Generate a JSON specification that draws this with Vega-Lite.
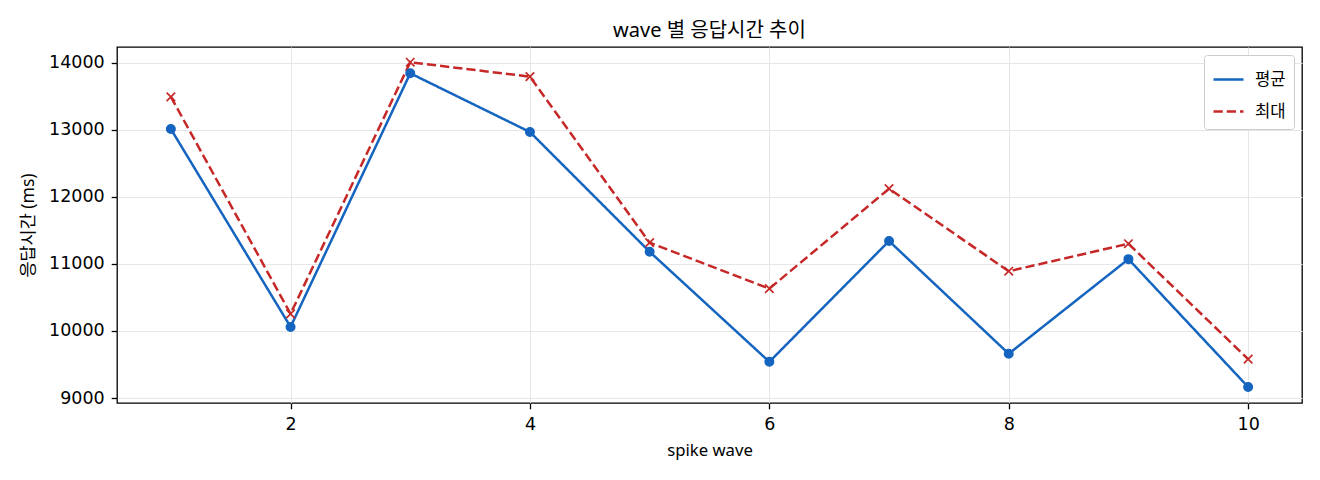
{
  "$schema": "https://vega.github.io/schema/vega-lite/v6.json",
  "autosize": {"type": "none"},
  "padding": {"left": 117, "top": 47, "right": 18, "bottom": 77},
  "width": 1185,
  "height": 356,
  "background": "white",
  "title": {
    "text": "wave 별 응답시간 추이",
    "font": "Noto Sans, Noto Sans CJK KR",
    "fontSize": 20,
    "fontWeight": "normal",
    "color": "#000000",
    "anchor": "middle",
    "offset": 6
  },
  "data": {
    "values": [
      {"wave": 1, "series": "평균", "value": 13010},
      {"wave": 2, "series": "평균", "value": 10060},
      {"wave": 3, "series": "평균", "value": 13840},
      {"wave": 4, "series": "평균", "value": 12965},
      {"wave": 5, "series": "평균", "value": 11180},
      {"wave": 6, "series": "평균", "value": 9540},
      {"wave": 7, "series": "평균", "value": 11340},
      {"wave": 8, "series": "평균", "value": 9660},
      {"wave": 9, "series": "평균", "value": 11070},
      {"wave": 10, "series": "평균", "value": 9165},
      {"wave": 1, "series": "최대", "value": 13490},
      {"wave": 2, "series": "최대", "value": 10255},
      {"wave": 3, "series": "최대", "value": 14005},
      {"wave": 4, "series": "최대", "value": 13790},
      {"wave": 5, "series": "최대", "value": 11315},
      {"wave": 6, "series": "최대", "value": 10630},
      {"wave": 7, "series": "최대", "value": 12120},
      {"wave": 8, "series": "최대", "value": 10890},
      {"wave": 9, "series": "최대", "value": 11300},
      {"wave": 10, "series": "최대", "value": 9580}
    ]
  },
  "encoding": {
    "x": {
      "field": "wave",
      "type": "quantitative",
      "scale": {"domain": [0.55, 10.45], "nice": false, "zero": false},
      "axis": {"values": [2, 4, 6, 8, 10], "title": "spike wave", "labelPadding": 6.5, "titlePadding": 10, "labelFlush": false}
    },
    "y": {
      "field": "value",
      "type": "quantitative",
      "scale": {"domain": [8926, 14232], "nice": false, "zero": false},
      "axis": {"values": [9000, 10000, 11000, 12000, 13000, 14000], "format": "d", "title": "응답시간 (ms)", "labelPadding": 7, "titlePadding": 11, "titleFontSize": 17.5}
    }
  },
  "layer": [
    {
      "mark": {"type": "line", "strokeWidth": 2.5},
      "encoding": {
        "color": {
          "field": "series",
          "type": "nominal",
          "scale": {"domain": ["평균", "최대"], "range": ["#1565C0", "#C62828"]},
          "legend": {
            "title": null,
            "orient": "top-right",
            "offset": 8,
            "padding": 8,
            "fillColor": "#ffffff",
            "strokeColor": "#cccccc",
            "cornerRadius": 3,
            "labelFont": "Noto Sans CJK KR",
            "labelFontSize": 16.7,
            "labelColor": "#000000",
            "labelOffset": 10,
            "symbolType": "stroke",
            "symbolSize": 900,
            "symbolStrokeWidth": 2.5,
            "rowPadding": 6
          }
        },
        "strokeDash": {
          "field": "series",
          "type": "nominal",
          "scale": {"domain": ["평균", "최대"], "range": [[1, 0], [9.25, 4]]},
          "legend": {
            "title": null,
            "orient": "top-right",
            "offset": 8,
            "padding": 8,
            "fillColor": "#ffffff",
            "strokeColor": "#cccccc",
            "cornerRadius": 3,
            "labelFont": "Noto Sans CJK KR",
            "labelFontSize": 16.7,
            "labelColor": "#000000",
            "labelOffset": 10,
            "symbolType": "stroke",
            "symbolSize": 900,
            "symbolStrokeWidth": 2.5,
            "rowPadding": 6
          }
        }
      }
    },
    {
      "transform": [{"filter": "datum.series === '평균'"}],
      "mark": {"type": "point", "shape": "circle", "filled": true, "size": 72, "strokeWidth": 1.5, "stroke": "#1565C0", "fill": "#1565C0", "opacity": 1}
    },
    {
      "transform": [{"filter": "datum.series === '최대'"}],
      "mark": {"type": "point", "shape": "M-1,-1L1,1M-1,1L1,-1", "filled": false, "size": 72, "strokeWidth": 1.7, "stroke": "#C62828", "opacity": 1}
    }
  ],
  "config": {
    "view": {"stroke": "#000000", "strokeWidth": 1.3},
    "axis": {
      "domain": false,
      "grid": true,
      "gridColor": "#e6e6e6",
      "gridWidth": 1,
      "ticks": true,
      "tickColor": "#000000",
      "tickWidth": 1.3,
      "tickSize": 5.8,
      "labelFont": "DejaVu Sans",
      "labelFontSize": 17.5,
      "labelColor": "#000000",
      "titleFont": "Noto Sans, Noto Sans CJK KR",
      "titleFontSize": 16.7,
      "titleFontWeight": "normal",
      "titleColor": "#000000"
    }
  }
}
